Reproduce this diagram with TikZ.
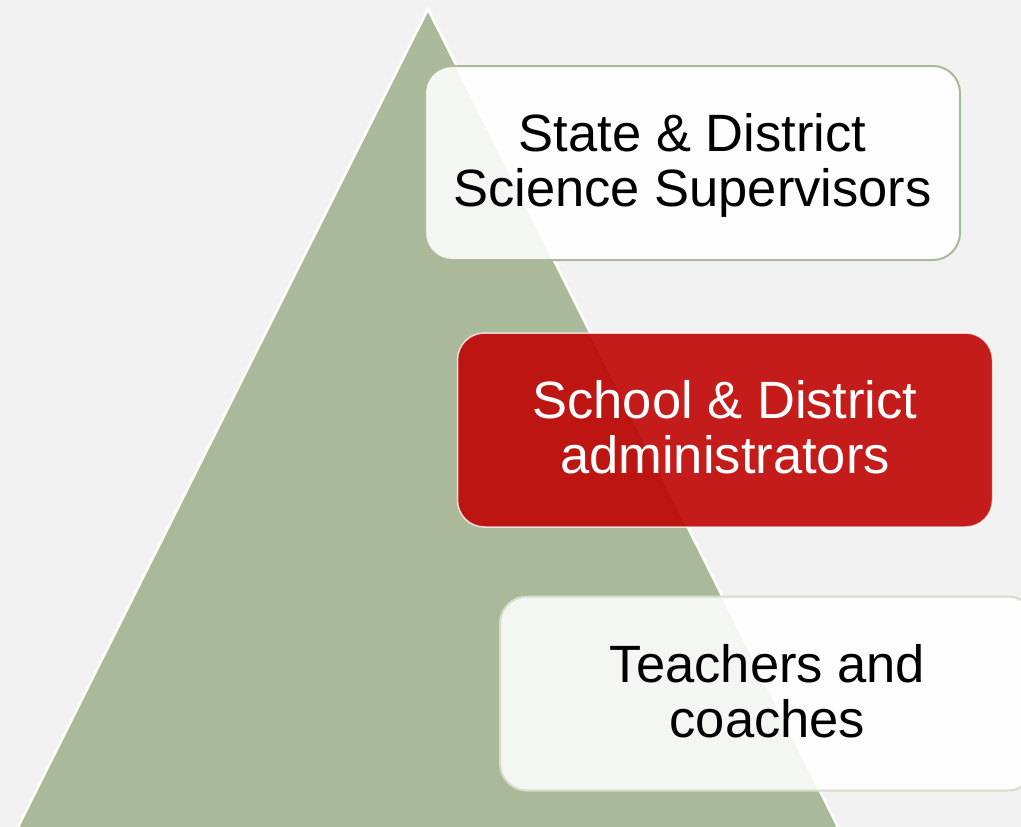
\documentclass[tikz,border=0pt]{standalone}
\usepackage{fontspec}
\setmainfont{Liberation Sans}
\begin{document}
\begin{tikzpicture}[x=1pt,y=-1pt,
  tier/.style={rounded corners=27pt, minimum width=535pt, minimum height=194pt,
    align=center, text depth=6pt, font=\fontsize{52.5}{55}\selectfont, line width=2pt},
  lighttier/.style={tier, fill=white, fill opacity=0.88, text opacity=1, text=black},
  redtier/.style={tier, fill=tierred, fill opacity=0.9, text opacity=1, text=white,
    draw=white, draw opacity=0.75, line width=1.5pt}]
\definecolor{pagegray}{RGB}{242,242,242}
\definecolor{sage}{RGB}{171,185,155}
\definecolor{sagelight}{RGB}{213,220,203}
\definecolor{tierred}{RGB}{191,4,4}
\useasboundingbox (0,0) rectangle (1021,827);
\clip (0,0) rectangle (1021,827);
\fill[pagegray] (0,0) rectangle (1021,827);
% pyramid
\draw[fill=sage, draw=white, line width=2.5pt, line join=miter]
  (428,9) -- (844.5,840) -- (11.5,840) -- cycle;
% tiers
\node[lighttier, draw=sage] (state) at (692.5,163)
  {State \& District\\Science Supervisors};
\node[redtier] (school) at (725,430)
  {School \& District\\administrators};
\node[lighttier, draw=sagelight] (teachers) at (767.5,693.5)
  {Teachers and\\coaches};
\end{tikzpicture}
\end{document}
